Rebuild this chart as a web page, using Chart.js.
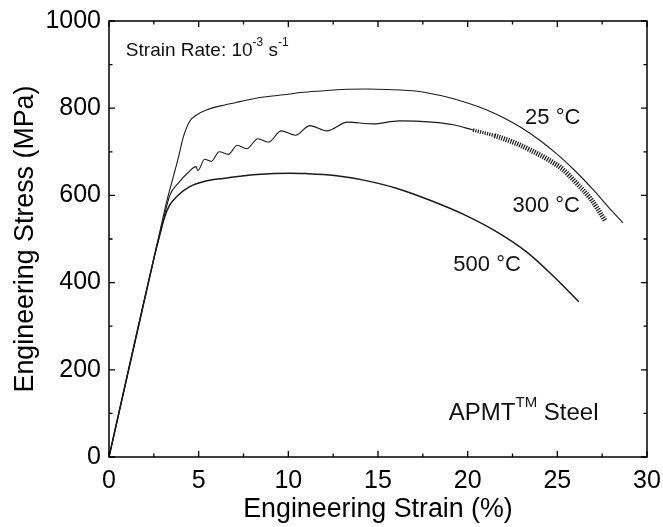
<!DOCTYPE html>
<html><head><meta charset="utf-8">
<script src="https://cdn.jsdelivr.net/npm/chart.js@4/dist/chart.umd.min.js"></script>
<style>html,body{margin:0;padding:0;background:#fff}canvas{display:block}</style>
</head><body>
<canvas id="c" width="663" height="527"></canvas>
<script>
// ---- data ----
const strain25 = [0, 2.5, 3.2, 3.6, 3.9, 4.13, 4.5, 4.9, 5.5, 6.5, 7.3, 8.5, 10, 10.7, 12, 13, 14.4, 15.5, 17.2, 18.5, 20, 21, 22, 23, 24, 25, 26, 27, 28, 28.66];
const stress25 = [0, 455, 583, 645, 692, 732, 770, 785, 797, 808, 815, 825, 832, 836, 840, 843, 844, 843, 839, 829, 812, 797, 778, 755, 727, 694, 656, 613, 566, 537];

const strain300 = [0, 2.5, 2.9, 3.39, 3.9, 4.4, 4.85, 4.96, 5.33, 5.7, 6.15, 6.65, 7.15, 7.68, 8.3, 8.9, 9.6, 10.4, 11.2, 12.15, 13.3, 14.7, 16.2, 18.0, 19.2, 20.3, 21.5, 22.6, 23.5, 24.5, 25.3, 26.0, 26.9, 27.67];
const stress300 = [0, 455, 520, 600, 630, 652, 666, 657, 683, 678, 700, 694, 715, 707, 730, 722, 748, 738, 760, 748, 768, 764, 771, 768, 762, 750, 737, 721, 704, 682, 660, 631, 590, 542];

const strain500 = [0, 2.5, 2.8, 3.1, 3.39, 3.77, 4.5, 5.3, 6.37, 7.3, 8.23, 10.1, 11.0, 11.96, 12.9, 14.2, 16.06, 17.9, 19.8, 21.6, 23.3, 24.8, 26.2];
const stress500 = [0, 455, 505, 550, 578, 597, 620, 632, 639, 644, 648, 651, 650, 648, 644, 635, 616, 589, 556, 517, 470, 414, 356];

const xTicks = [0, 5, 10, 15, 20, 25, 30];
const yTicks = [0, 200, 400, 600, 800, 1000];
const serrationStart = 20.2; // strain where the dense serration band of the 300 °C curve begins

const FONT = "'Liberation Sans', Arial, Helvetica, sans-serif";
const toXY = (xs, ys) => xs.map((x, i) => ({x, y: ys[i]}));

function drawRich(ctx, x, y, parts, size) {
  let cx = x;
  for (const p of parts) {
    const s = p.sup ? Math.round(size * 0.62) : size;
    ctx.font = s + 'px ' + FONT;
    ctx.textBaseline = 'middle';
    ctx.textAlign = 'left';
    ctx.fillText(p.t, cx, p.sup ? y - size * 0.42 : y);
    cx += ctx.measureText(p.t).width;
  }
}

const frame = {
  id: 'frame',
  afterDraw(chart) {
    const {ctx, chartArea: a, scales: {x, y}} = chart;
    ctx.save();
    ctx.strokeStyle = '#000';
    ctx.lineWidth = 1.5;
    ctx.strokeRect(a.left, a.top, a.right - a.left, a.bottom - a.top);
    ctx.lineWidth = 1.3;
    ctx.beginPath();
    for (let v = 0; v <= 30; v += 2.5) {
      const px = x.getPixelForValue(v);
      const L = (v % 5 === 0) ? 6 : 3.5;
      ctx.moveTo(px, a.bottom); ctx.lineTo(px, a.bottom - L);
      ctx.moveTo(px, a.top); ctx.lineTo(px, a.top + L);
    }
    for (let v = 0; v <= 1000; v += 100) {
      const py = y.getPixelForValue(v);
      const L = (v % 200 === 0) ? 6 : 3.5;
      ctx.moveTo(a.left, py); ctx.lineTo(a.left + L, py);
      ctx.moveTo(a.right, py); ctx.lineTo(a.right - L, py);
    }
    ctx.stroke();
    ctx.fillStyle = '#111';
    const P = (vx, vy) => [x.getPixelForValue(vx), y.getPixelForValue(vy)];
    let p;
    p = P(0.94, 932); drawRich(ctx, p[0], p[1], [{t: 'Strain Rate: 10'}, {t: '-3', sup: true}, {t: ' s'}, {t: '-1', sup: true}], 19);
    p = P(23.2, 777); drawRich(ctx, p[0], p[1], [{t: '25 °C'}], 22);
    p = P(22.5, 576); drawRich(ctx, p[0], p[1], [{t: '300 °C'}], 22);
    p = P(19.2, 440); drawRich(ctx, p[0], p[1], [{t: '500 °C'}], 22);
    p = P(18.95, 101); drawRich(ctx, p[0], p[1], [{t: 'APMT'}, {t: 'TM', sup: true}, {t: ' Steel'}], 24);
    ctx.restore();
  }
};

const lineStyle = {showLine: true, pointRadius: 0, fill: false, borderColor: '#1a1a1a', cubicInterpolationMode: 'monotone'};

new Chart(document.getElementById('c'), {
  type: 'scatter',
  data: {
    datasets: [
      Object.assign({label: '25 °C', data: toXY(strain25, stress25), borderWidth: 1.1}, lineStyle),
      Object.assign({label: '300 °C', data: toXY(strain300, stress300), borderWidth: 1.1,
        segment: {
          borderWidth: c => c.p0.parsed.x >= serrationStart ? (c.p0.parsed.x >= 21.5 ? 5 : 3.5) : 1.1,
          borderDash: c => c.p0.parsed.x >= serrationStart ? [1.2, 1.2] : []
        }}, lineStyle),
      Object.assign({label: '500 °C', data: toXY(strain500, stress500), borderWidth: 1.5}, lineStyle)
    ]
  },
  options: {
    responsive: false,
    devicePixelRatio: 1,
    animation: false,
    layout: {padding: {top: 21, right: 16, left: 0, bottom: 0}},
    plugins: {legend: {display: false}, tooltip: {enabled: false}},
    scales: {
      x: {
        type: 'linear', min: 0, max: 30,
        afterBuildTicks: s => { s.ticks = xTicks.map(v => ({value: v})); },
        afterFit: s => { s.height = 70; s.paddingLeft = 0; s.paddingRight = 0; },
        grid: {display: false, drawTicks: false},
        border: {display: false},
        ticks: {color: '#000', font: {family: FONT, size: 25}, padding: 9, maxRotation: 0, callback: v => String(v)},
        title: {display: true, text: 'Engineering Strain (%)', color: '#000', font: {family: FONT, size: 26.8}, padding: {top: 0, bottom: 1}}
      },
      y: {
        type: 'linear', min: 0, max: 1000,
        afterBuildTicks: s => { s.ticks = yTicks.map(v => ({value: v})); },
        afterFit: s => { s.width = 109; s.paddingTop = 0; s.paddingBottom = 0; },
        grid: {display: false, drawTicks: false},
        border: {display: false},
        ticks: {color: '#000', font: {family: FONT, size: 25}, padding: 8, callback: v => String(v)},
        title: {display: true, text: 'Engineering Stress (MPa)', color: '#000', font: {family: FONT, size: 26.8}, padding: {top: 10, bottom: 0}}
      }
    }
  },
  plugins: [frame]
});
</script>
</body></html>
